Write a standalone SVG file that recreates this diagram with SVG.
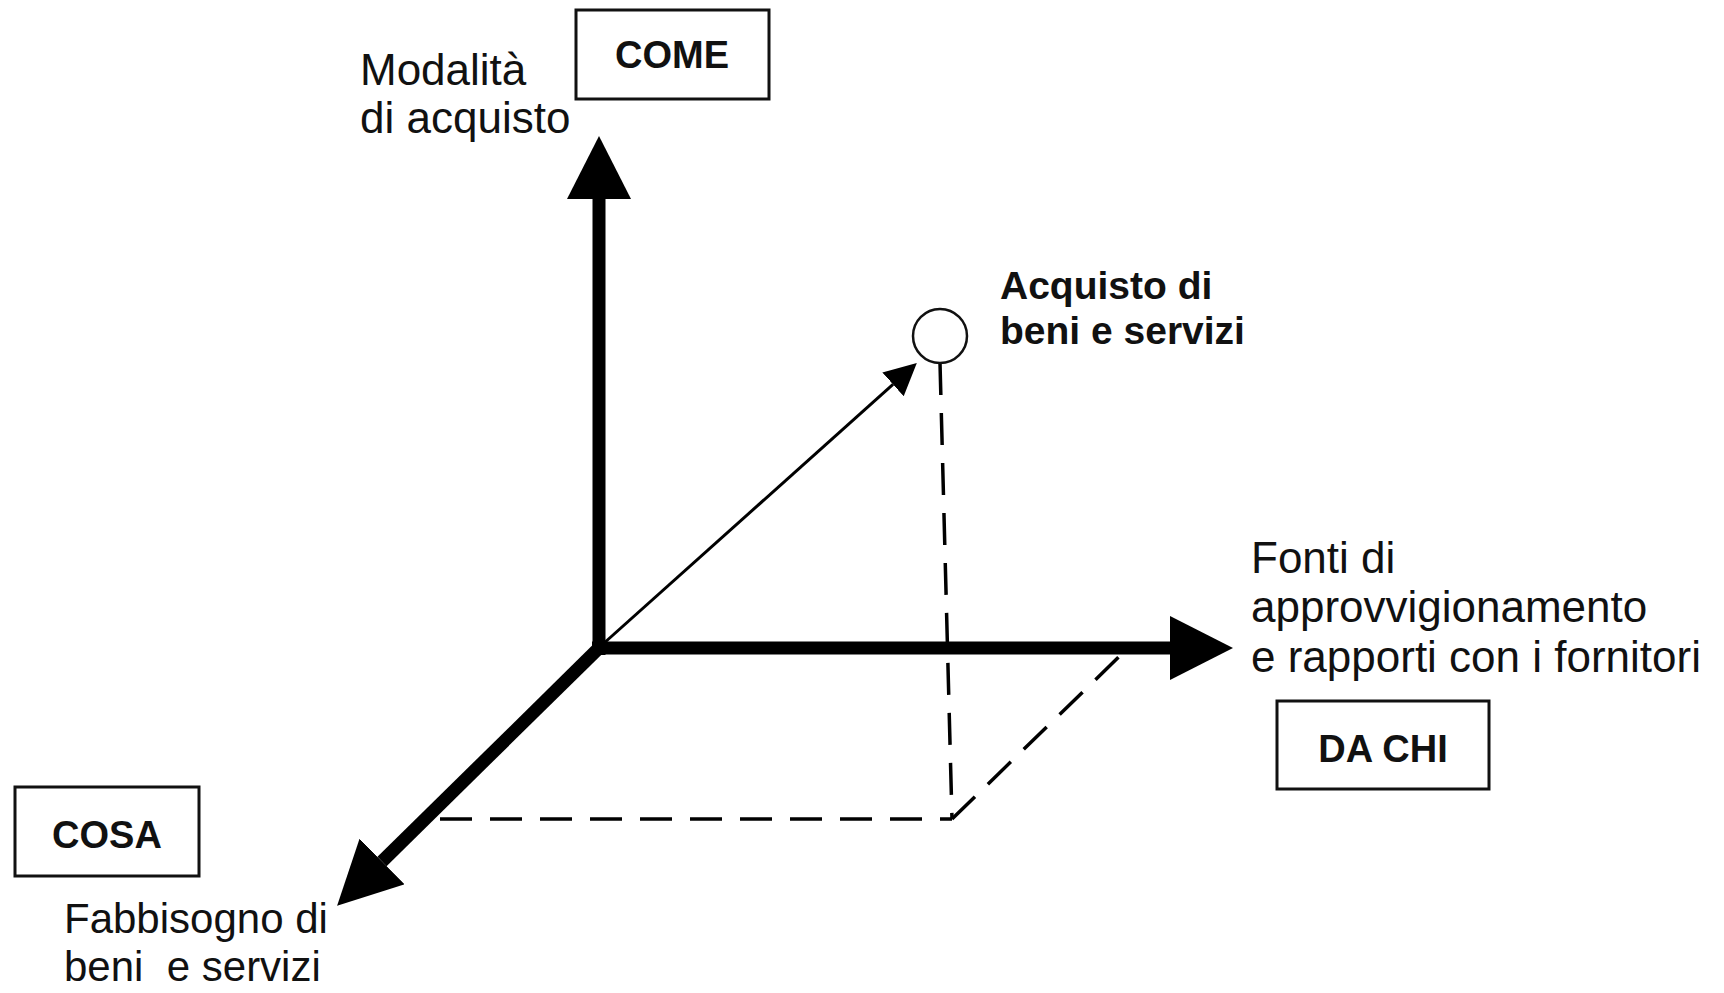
<svg xmlns="http://www.w3.org/2000/svg" width="1724" height="993" viewBox="0 0 1724 993">
<style>
.lbl{font-family:"Liberation Sans",Arial,sans-serif;font-size:42px;fill:#111}
.lg{font-size:44px}
.bold{font-family:"Liberation Sans",Arial,sans-serif;font-size:38px;font-weight:bold;fill:#111}
.bl{font-size:39px}
.box{fill:#fff;stroke:#111;stroke-width:3}
.axis{fill:none;stroke:#000;stroke-width:13;stroke-linejoin:miter}
.thin{fill:none;stroke:#000;stroke-width:3}
.dash{fill:none;stroke:#000;stroke-width:3.5;stroke-dasharray:32 18}
</style>
<defs>
<marker id="bigHead" markerUnits="userSpaceOnUse" markerWidth="64" markerHeight="64" refX="0" refY="32" orient="auto" viewBox="0 0 64 64">
<path d="M0,0 L63,32 L0,64 Z" fill="#000"/>
</marker>
<marker id="smallHead" markerUnits="userSpaceOnUse" markerWidth="33" markerHeight="33" refX="0" refY="16" orient="auto" viewBox="0 0 33 33">
<path d="M0,0 L32,16 L0,32 Z" fill="#000"/>
</marker>
</defs>
<rect width="1724" height="993" fill="#fff"/>
<g id="connectors">
<path class="dash" d="M940,363 L952,819"/>
<path class="dash" d="M440,819 L952,819"/>
<path class="dash" d="M952,819 L1127,649"/>
<path class="axis" d="M599,655 L599,199" marker-end="url(#bigHead)"/>
<path class="axis" d="M592,648 L1170,648" marker-end="url(#bigHead)"/>
<path class="axis" d="M603,644 L382,861.5" marker-end="url(#bigHead)"/>
<path class="thin" d="M603,644 L893,384.4" marker-end="url(#smallHead)"/>
</g>
<g id="node-come">
<rect class="box" x="576" y="10" width="193" height="89"/>
<text class="bold" x="672" y="68" text-anchor="middle">COME</text>
</g>
<g id="label-modalita">
<text class="lbl lg" x="360" y="85">Modalità</text>
<text class="lbl lg" x="360" y="133">di acquisto</text>
</g>
<g id="node-acquisto">
<circle cx="940" cy="336" r="27" fill="#fff" stroke="#111" stroke-width="2.5"/>
<text class="bold bl" x="1000" y="299">Acquisto di</text>
<text class="bold bl" x="1000" y="344">beni e servizi</text>
</g>
<g id="label-fonti">
<text class="lbl lg" x="1251" y="573">Fonti di</text>
<text class="lbl lg" x="1251" y="622">approvvigionamento</text>
<text class="lbl lg" x="1251" y="672">e rapporti con i fornitori</text>
</g>
<g id="node-dachi">
<rect class="box" x="1277" y="701" width="212" height="88"/>
<text class="bold" x="1383" y="762" text-anchor="middle">DA CHI</text>
</g>
<g id="node-cosa">
<rect class="box" x="15" y="787" width="184" height="89"/>
<text class="bold" x="107" y="848" text-anchor="middle">COSA</text>
</g>
<g id="label-fabbisogno">
<text class="lbl" x="64" y="933">Fabbisogno di</text>
<text class="lbl" x="64" y="981" xml:space="preserve">beni  e servizi</text>
</g>
</svg>
